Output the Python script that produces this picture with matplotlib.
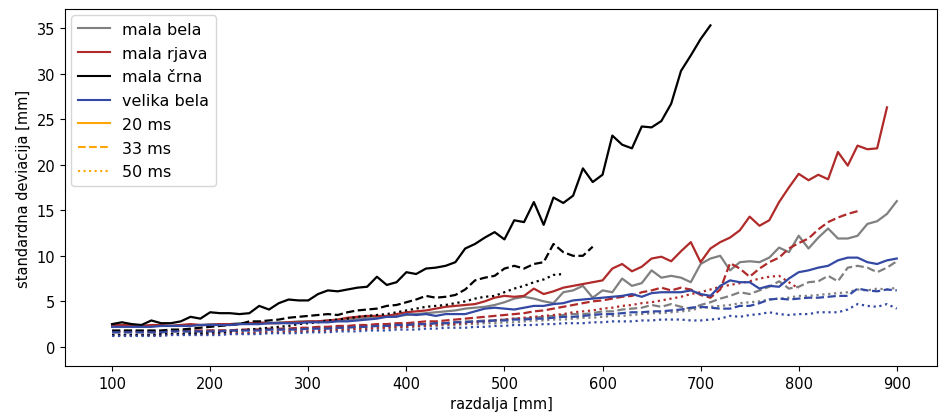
import numpy as np
import matplotlib
matplotlib.use("Agg")
import matplotlib.pyplot as plt
from matplotlib.lines import Line2D

# distances [mm] (10 mm step)
x_all = np.arange(100, 901, 10)

# mala crna
black_20 = [2.5, 2.7, 2.5, 2.4, 2.9, 2.6, 2.6, 2.8, 3.3, 3.1,
            3.8, 3.7, 3.7, 3.6, 3.7, 4.5, 4.1, 4.8, 5.2, 5.1,
            5.1, 5.8, 6.2, 6.1, 6.3, 6.5, 6.6, 7.7, 6.8, 7.1,
            8.2, 8.0, 8.6, 8.7, 8.9, 9.3, 10.8, 11.3, 12.0, 12.6,
            11.8, 13.9, 13.7, 15.9, 13.4, 16.4, 15.8, 16.6, 19.6, 18.1,
            18.9, 23.2, 22.2, 21.8, 24.2, 24.1, 24.8, 26.7, 30.3, 32.0,
            33.8, 35.3]
black_33 = [1.8, 1.8, 1.8, 1.8, 1.8, 1.8, 1.9, 1.9, 2.0, 2.1,
            2.2, 2.3, 2.4, 2.5, 2.8, 2.8, 2.9, 3.0, 3.2, 3.3,
            3.4, 3.5, 3.6, 3.5, 3.8, 4.0, 4.1, 4.2, 4.5, 4.6,
            4.9, 5.2, 5.6, 5.4, 5.5, 5.7, 6.3, 7.3, 7.6, 7.8,
            8.6, 8.9, 8.6, 9.1, 9.3, 11.3, 10.4, 10.0, 10.0, 11.0]
black_50 = [1.3, 1.3, 1.3, 1.3, 1.3, 1.4, 1.4, 1.4, 1.5, 1.5,
            1.6, 1.6, 1.7, 1.8, 1.9, 2.0, 2.1, 2.2, 2.3, 2.5,
            2.6, 2.7, 2.9, 3.0, 3.1, 3.3, 3.4, 3.5, 3.6, 3.8,
            4.0, 4.2, 4.4, 4.5, 4.6, 4.8, 5.0, 5.3, 5.5, 5.6,
            6.0, 6.4, 6.7, 7.1, 7.4, 7.9, 8.0]

# mala rjava
red_20 = [2.4, 2.4, 2.4, 2.3, 2.4, 2.4, 2.3, 2.4, 2.5, 2.4,
          2.4, 2.5, 2.5, 2.5, 2.6, 2.7, 2.6, 2.6, 2.7, 2.7,
          2.8, 2.8, 2.9, 3.0, 3.2, 3.3, 3.4, 3.4, 3.4, 3.6,
          3.8, 3.9, 4.0, 4.2, 4.4, 4.5, 4.6, 4.7, 5.0, 5.4,
          5.6, 5.5, 5.6, 6.4, 5.8, 6.1, 6.5, 6.7, 6.9, 7.1,
          7.3, 8.6, 9.1, 8.3, 8.8, 9.7, 9.9, 9.4, 10.5, 11.5,
          9.3, 10.8, 11.5, 12.0, 12.8, 14.3, 13.3, 13.9, 15.9, 17.5,
          19.0, 18.3, 18.9, 18.4, 21.4, 19.9, 22.1, 21.7, 21.8, 26.3]
red_33 = [1.7, 1.7, 1.7, 1.7, 1.7, 1.7, 1.7, 1.8, 1.8, 1.8,
          1.8, 1.8, 1.8, 1.9, 1.9, 1.9, 2.0, 2.0, 2.0, 2.1,
          2.1, 2.2, 2.2, 2.3, 2.3, 2.4, 2.4, 2.5, 2.5, 2.6,
          2.6, 2.7, 2.8, 2.8, 2.9, 3.0, 3.1, 3.2, 3.3, 3.4,
          3.5, 3.6, 3.7, 3.9, 4.0, 4.2, 4.4, 4.6, 4.8, 5.0,
          5.1, 5.3, 5.5, 5.6, 6.0, 6.2, 6.5, 6.2, 6.5, 6.3,
          5.7, 5.4, 6.3, 9.2, 8.6, 7.7, 8.6, 9.3, 9.8, 10.8,
          11.4, 11.9, 12.9, 13.7, 14.2, 14.6, 14.9]
red_50 = [1.3, 1.3, 1.3, 1.3, 1.3, 1.3, 1.4, 1.4, 1.4, 1.4,
          1.4, 1.5, 1.5, 1.5, 1.5, 1.6, 1.6, 1.6, 1.7, 1.7,
          1.7, 1.8, 1.8, 1.9, 1.9, 2.0, 2.0, 2.1, 2.1, 2.2,
          2.2, 2.3, 2.3, 2.4, 2.5, 2.5, 2.6, 2.7, 2.8, 2.9,
          3.0, 3.1, 3.2, 3.3, 3.4, 3.5, 3.6, 3.8, 3.9, 4.0,
          4.2, 4.3, 4.5, 4.6, 4.8, 4.9, 5.1, 5.3, 5.5, 5.8,
          6.0, 6.3, 6.6, 6.8, 7.0, 7.2, 7.5, 7.7, 7.8, 7.1,
          6.4]

# mala bela
gray_20 = [2.4, 2.4, 2.3, 2.3, 2.3, 2.3, 2.3, 2.4, 2.4, 2.4,
           2.5, 2.5, 2.5, 2.6, 2.6, 2.6, 2.6, 2.7, 2.7, 2.8,
           2.8, 2.8, 2.9, 2.9, 3.0, 3.1, 3.2, 3.3, 3.3, 3.4,
           3.5, 3.6, 3.7, 3.8, 3.9, 4.0, 4.2, 4.3, 4.4, 4.6,
           4.9, 5.3, 5.5, 5.3, 5.0, 4.8, 6.0, 6.2, 6.7, 5.4,
           6.2, 6.0, 7.5, 6.7, 7.0, 8.4, 7.6, 7.8, 7.6, 7.1,
           9.1, 9.7, 10.0, 8.4, 9.3, 9.4, 9.3, 9.8, 10.9, 10.4,
           12.2, 10.8, 12.0, 13.0, 11.9, 11.9, 12.2, 13.5, 13.8, 14.6,
           16.0]
gray_33 = [1.6, 1.6, 1.6, 1.6, 1.6, 1.6, 1.7, 1.7, 1.7, 1.7,
           1.8, 1.8, 1.8, 1.8, 1.9, 1.9, 1.9, 1.9, 2.0, 2.0,
           2.0, 2.1, 2.1, 2.1, 2.2, 2.2, 2.3, 2.3, 2.3, 2.4,
           2.4, 2.5, 2.5, 2.6, 2.6, 2.7, 2.8, 2.8, 2.9, 2.9,
           3.0, 3.1, 3.1, 3.2, 3.3, 3.4, 3.5, 3.6, 3.6, 3.7,
           3.9, 3.9, 4.1, 4.2, 4.3, 4.6, 4.4, 4.7, 4.4, 4.2,
           4.6, 4.9, 5.3, 5.6, 6.0, 5.8, 6.2, 6.6, 7.2, 6.4,
           6.6, 7.1, 7.2, 7.8, 7.2, 8.7, 8.9, 8.7, 8.2, 8.7,
           9.4]
gray_50 = [1.3, 1.3, 1.3, 1.3, 1.3, 1.4, 1.4, 1.4, 1.4, 1.4,
           1.5, 1.5, 1.5, 1.5, 1.6, 1.6, 1.6, 1.7, 1.7, 1.7,
           1.8, 1.8, 1.8, 1.9, 1.9, 2.0, 2.0, 2.0, 2.1, 2.1,
           2.2, 2.2, 2.3, 2.3, 2.4, 2.4, 2.5, 2.5, 2.6, 2.6,
           2.7, 2.7, 2.8, 2.9, 2.9, 3.0, 3.0, 3.1, 3.2, 3.2,
           3.3, 3.4, 3.4, 3.5, 3.6, 3.7, 3.7, 3.8, 3.9, 4.0,
           4.3, 4.4, 4.5, 4.6, 4.8, 4.9, 5.0, 5.2, 5.3, 5.4,
           5.6, 5.6, 5.7, 5.8, 5.9, 6.0, 6.3, 6.2, 6.4, 6.3,
           6.5]

# velika bela
blue_20 = [2.2, 2.2, 2.2, 2.2, 2.2, 2.3, 2.3, 2.3, 2.3, 2.4,
           2.4, 2.4, 2.4, 2.5, 2.5, 2.5, 2.6, 2.6, 2.6, 2.6,
           2.7, 2.7, 2.7, 2.8, 2.8, 2.9, 3.0, 3.1, 3.3, 3.3,
           3.6, 3.5, 3.6, 3.4, 3.6, 3.6, 3.6, 3.9, 4.2, 4.3,
           4.2, 4.1, 4.3, 4.5, 4.5, 4.7, 4.8, 5.1, 5.2, 5.3,
           5.4, 5.5, 5.6, 5.8, 5.5, 5.9, 6.0, 6.0, 6.0, 6.2,
           5.8, 5.6, 6.7, 7.3, 7.1, 7.1, 6.4, 6.7, 6.6, 7.5,
           8.2, 8.4, 8.7, 8.9, 9.5, 9.8, 9.8, 9.3, 9.1, 9.5,
           9.7]
blue_33 = [1.6, 1.6, 1.6, 1.6, 1.6, 1.6, 1.7, 1.7, 1.7, 1.7,
           1.7, 1.7, 1.8, 1.8, 1.8, 1.8, 1.9, 1.9, 1.9, 1.9,
           2.0, 2.0, 2.0, 2.1, 2.1, 2.2, 2.2, 2.3, 2.3, 2.4,
           2.4, 2.5, 2.5, 2.6, 2.6, 2.7, 2.7, 2.8, 2.8, 2.9,
           2.9, 3.0, 3.0, 3.1, 3.1, 3.2, 3.3, 3.3, 3.4, 3.5,
           3.6, 3.6, 3.7, 3.8, 3.8, 3.9, 3.9, 4.0, 4.1, 4.3,
           4.4, 4.3, 4.2, 4.2, 4.5, 4.5, 4.8, 5.2, 5.3, 5.2,
           5.3, 5.4, 5.4, 5.5, 5.6, 5.6, 6.4, 6.2, 6.1, 6.3,
           6.2]
blue_50 = [1.2, 1.2, 1.2, 1.2, 1.2, 1.2, 1.3, 1.3, 1.3, 1.3,
           1.3, 1.3, 1.4, 1.4, 1.4, 1.4, 1.5, 1.5, 1.5, 1.5,
           1.6, 1.6, 1.6, 1.7, 1.7, 1.7, 1.8, 1.8, 1.8, 1.9,
           1.9, 1.9, 2.0, 2.0, 2.1, 2.1, 2.1, 2.2, 2.2, 2.3,
           2.3, 2.4, 2.4, 2.4, 2.5, 2.5, 2.6, 2.6, 2.6, 2.7,
           2.7, 2.8, 2.8, 2.8, 2.9, 2.9, 3.0, 3.0, 3.0, 2.9,
           2.9, 3.0, 3.1, 3.4, 3.3, 3.5, 3.6, 3.8, 3.6, 3.5,
           3.6, 3.6, 3.8, 3.8, 3.8, 4.1, 4.7, 4.5, 4.4, 4.7,
           4.2]

colors = {"gray": "#808080", "red": "#b02a2a", "black": "#000000", "blue": "#3349a3"}
names = ["mala bela", "mala rjava", "mala črna", "velika bela"]
series = [
    ("gray", gray_20, gray_33, gray_50),
    ("red", red_20, red_33, red_50),
    ("black", black_20, black_33, black_50),
    ("blue", blue_20, blue_33, blue_50),
]
styles = ["-", "--", ":"]
times = ["20 ms", "33 ms", "50 ms"]

fig = plt.figure(figsize=(9.48, 4.14), dpi=100)
ax = fig.add_axes([65 / 948, 47 / 414, 872 / 948, 357 / 414])

for key, s20, s33, s50 in series:
    for data, ls in zip((s20, s33, s50), styles):
        ax.plot(x_all[:len(data)], data, color=colors[key], linestyle=ls, linewidth=1.6)

ax.set_xlim(52, 941)
ax.set_ylim(-2.1, 37.1)
ax.set_xticks(range(100, 901, 100))
ax.set_yticks(range(0, 36, 5))
ax.tick_params(labelsize=10.5)
ax.set_xlabel("razdalja [mm]", fontsize=10.5)
ax.set_ylabel("standardna deviacija [mm]", fontsize=10.5)

handles = [Line2D([], [], color=colors[k], linestyle="-") for k, *_ in series]
handles += [Line2D([], [], color="orange", linestyle=ls) for ls in styles]
ax.legend(handles, names + times, loc="upper left", fontsize=11.5,
          labelspacing=0.55, borderaxespad=0.4)

fig.savefig("out.png", dpi=100)
